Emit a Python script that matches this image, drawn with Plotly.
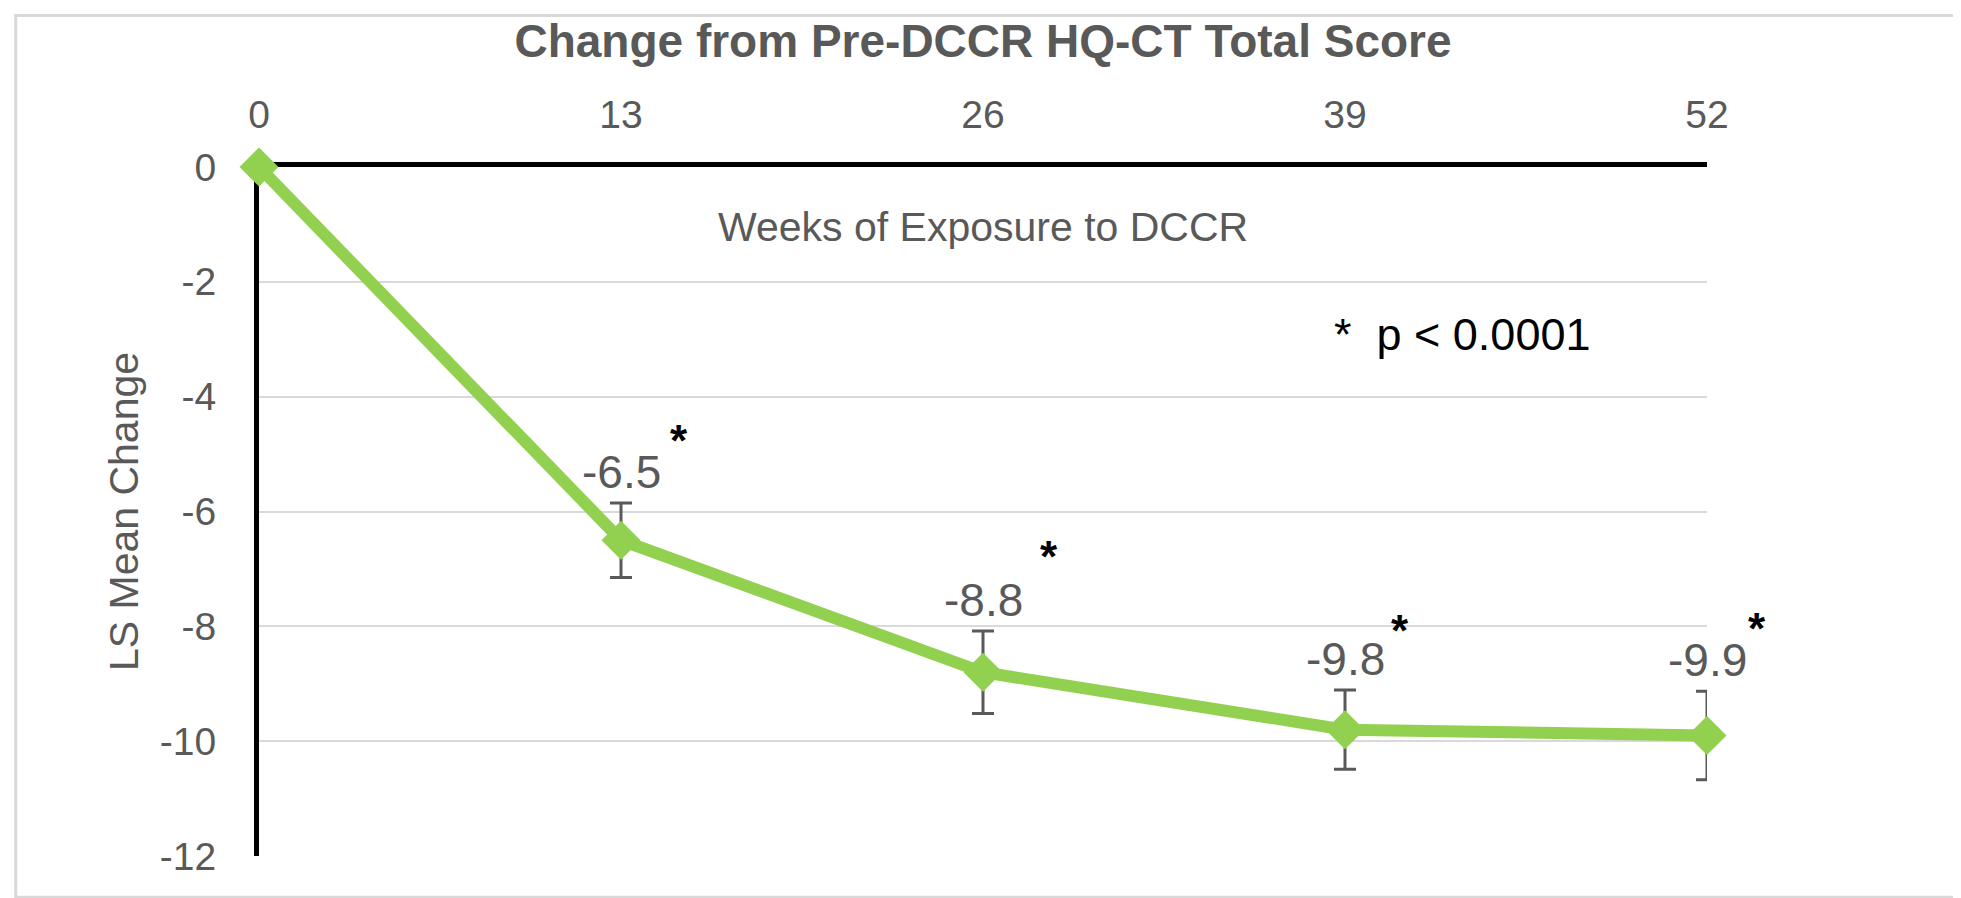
import plotly.graph_objects as go

weeks = [0, 13, 26, 39, 52]
ls_mean = [0, -6.5, -8.8, -9.8, -9.9]
err = [0, 0.65, 0.72, 0.69, 0.77]
labels = ["", "-6.5", "-8.8", "-9.8", "-9.9"]
sig = [False, True, True, True, True]
x_ticks = [0, 13, 26, 39, 52]
y_ticks = [0, -2, -4, -6, -8, -10, -12]

FONT = "Liberation Sans, Arial, Helvetica, sans-serif"
GRAY = "#595959"
GREEN = "#92D050"

fig = go.Figure()
fig.add_trace(go.Scatter(
    x=weeks, y=ls_mean, mode="lines+markers",
    line=dict(color=GREEN, width=12),
    marker=dict(symbol="diamond", size=30, color=GREEN),
    error_y=dict(type="data", array=err, visible=True, color=GRAY, thickness=3, width=11),
    cliponaxis=False, showlegend=False, hoverinfo="skip",
))

# data labels above error bars
ast_offsets = [None, (58, 62), (66, 74), (55, 60), (50, 63)]
for i, (xv, yv, e, lab) in enumerate(zip(weeks, ls_mean, err, labels)):
    if lab:
        fig.add_annotation(x=xv, y=yv + e, text=lab, showarrow=False,
                           xanchor="center", yanchor="bottom", yshift=3,
                           font=dict(family=FONT, size=46, color=GRAY))
    if sig[i]:
        dx, dy = ast_offsets[i]
        fig.add_annotation(x=xv, y=yv + e, text="<b>*</b>", showarrow=False,
                           xanchor="center", yanchor="middle", xshift=dx, yshift=dy,
                           font=dict(family=FONT, size=44, color="black"))

fig.add_annotation(x=26, y=-1.05, text="Weeks of Exposure to DCCR", showarrow=False,
                   xanchor="center", yanchor="middle",
                   font=dict(family=FONT, size=41, color=GRAY))
fig.add_annotation(x=43.2, y=-2.92, text="*&nbsp;&nbsp;p &lt; 0.0001", showarrow=False,
                   xanchor="center", yanchor="middle",
                   font=dict(family=FONT, size=45, color="black"))

# outer border
fig.add_shape(type="rect", xref="paper", yref="paper",
              x0=-0.168, x1=1.175, y0=-0.06, y1=1.22,
              line=dict(color="#d9d9d9", width=3), layer="below")

fig.update_layout(
    width=1961, height=898,
    margin=dict(l=251, r=262, t=159, b=50),
    paper_bgcolor="white", plot_bgcolor="white",
    title=dict(text="<b>Change from Pre-DCCR HQ-CT Total Score</b>",
               x=(251 + (1961 - 251 - 262) / 2) / 1961, xanchor="center",
               y=1 - 33 / 898, yanchor="middle",
               font=dict(family=FONT, size=46, color=GRAY)),
    xaxis=dict(range=[0, 52], side="top", tickvals=x_ticks, ticktext=[str(v) for v in x_ticks],
               showgrid=False, zeroline=False, showline=True, linecolor="black", linewidth=5,
               ticks="", ticklabelstandoff=18, layer="below traces",
               tickfont=dict(family=FONT, size=39, color=GRAY)),
    yaxis=dict(range=[-12, 0], tickvals=y_ticks, ticktext=[str(v) for v in y_ticks],
               showgrid=True, gridcolor="#d9d9d9", gridwidth=2, zeroline=False,
               showline=True, linecolor="black", linewidth=5, ticks="",
               ticklabelstandoff=30, layer="below traces",
               tickfont=dict(family=FONT, size=39, color=GRAY),
               title=dict(text="LS Mean Change", standoff=10,
                          font=dict(family=FONT, size=41, color=GRAY))),
)

fig.write_html("out.html")
